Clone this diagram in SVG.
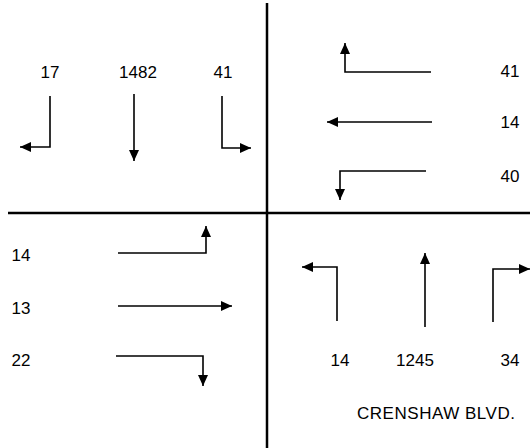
<svg xmlns="http://www.w3.org/2000/svg" width="530" height="448" viewBox="0 0 530 448">
<style>
.t{font-family:"Liberation Sans",Arial,sans-serif;font-size:17px;fill:#000;}
.m{text-anchor:middle;}
.axis{stroke:#000;stroke-width:2.5;fill:none;}
.arr{stroke:#000;stroke-width:1.6;fill:none;marker-end:url(#ah);}
</style>
<defs>
<marker id="ah" markerUnits="userSpaceOnUse" markerWidth="11" markerHeight="10" refX="11" refY="5" orient="auto">
<path d="M0,0 L11,5 L0,10 Z" fill="#000"/>
</marker>
</defs>
<rect width="530" height="448" fill="#fff"/>
<g id="streets">
<line class="axis" x1="267" y1="3" x2="267" y2="448"/>
<line class="axis" x1="8" y1="213" x2="530" y2="213"/>
</g>
<g id="connectors">
<path class="arr" d="M50,96 V147 H20"/>
<path class="arr" d="M134,94 V161"/>
<path class="arr" d="M222,96 V148 H251"/>
<path class="arr" d="M431,72 H345 V43"/>
<path class="arr" d="M432,122 H327"/>
<path class="arr" d="M426,171 H340 V200"/>
<path class="arr" d="M118,253 H206 V226"/>
<path class="arr" d="M118,306 H232"/>
<path class="arr" d="M116,356 H203 V386"/>
<path class="arr" d="M337,321 V267 H302"/>
<path class="arr" d="M425,327 V253"/>
<path class="arr" d="M493,322 V269 H530"/>
</g>
<g id="north-approach">
<text class="t m" x="50" y="78">17</text>
<text class="t m" x="138" y="78">1482</text>
<text class="t m" x="223" y="78">41</text>
</g>
<g id="east-approach">
<text class="t m" x="510" y="77">41</text>
<text class="t m" x="510" y="128">14</text>
<text class="t m" x="510" y="182">40</text>
</g>
<g id="west-approach">
<text class="t m" x="21" y="261">14</text>
<text class="t m" x="21" y="314">13</text>
<text class="t m" x="21" y="366">22</text>
</g>
<g id="south-approach">
<text class="t m" x="340" y="366">14</text>
<text class="t m" x="415" y="366">1245</text>
<text class="t m" x="510" y="366">34</text>
<text class="t" x="357" y="419" textLength="158" lengthAdjust="spacing">CRENSHAW BLVD.</text>
</g>
</svg>
